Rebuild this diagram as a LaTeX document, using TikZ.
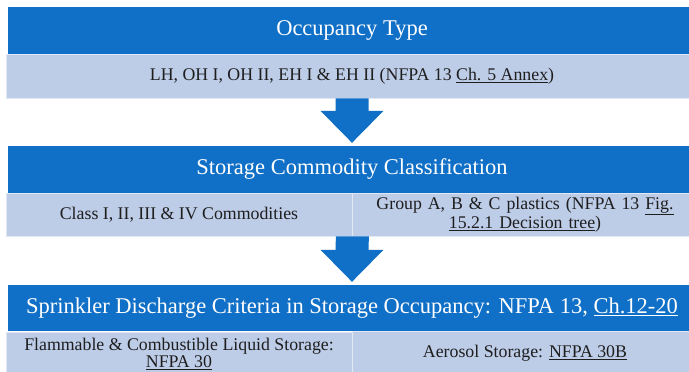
\documentclass[tikz,border=0pt]{standalone}
\usepackage{fontspec}
\setmainfont{Liberation Serif}
\usetikzlibrary{calc}

\definecolor{headblue}{RGB}{16,111,198}
\definecolor{infoblue}{RGB}{189,204,231}
\definecolor{infotext}{RGB}{30,30,30}

\tikzset{
  headbar/.style={fill=headblue, text=white, minimum width=688, minimum height=47,
    inner sep=0pt, font=\fontsize{22.5}{25}\selectfont},
  infobar/.style={fill=infoblue, draw=white!55!infoblue, line width=0.8pt, text=infotext,
    minimum height=43, inner sep=0pt, align=center, font=\fontsize{17.8}{17}\selectfont},
  flowarrow/.style={fill=headblue}
}

% block arrow from a bar down to the next header
\newcommand{\blockarrow}[2]{%
  \fill[flowarrow] ($(#1)+(-16.5,0)$) -- ($(#1)+(16.5,0)$) -- ($(#2)+(16.5,-35)$)
    -- ($(#2)+(31.5,-35)$) -- ($(#2)+(0,-3)$) -- ($(#2)+(-31.5,-35)$)
    -- ($(#2)+(-16.5,-35)$) -- cycle;}

\begin{document}
\begin{tikzpicture}[x=1pt,y=-1pt]
    \clip (0,0) rectangle (689,372);
    \fill[white] (0,0) rectangle (689,372);

    % occupancy
    \node[headbar] (occ) at (352,30.5) {Occupancy Type};
    \node[infobar, minimum width=692, minimum height=44] (occinfo) at (352,76)
      {LH, OH I, OH II, EH I \& EH II (NFPA 13 \underline{Ch. 5 Annex})};

    % commodity
    \node[headbar] (stor) at (352,169.5) {Storage Commodity Classification};
    \node[infobar, minimum width=346] (storl) at (179,214.5) {Class I, II, III \& IV Commodities};
    \node[infobar, minimum width=346, text width=336] (storr) at (525,214.5)
      {Group A, B \& C plastics (NFPA 13 \underline{Fig.}\\ \underline{15.2.1 Decision tree})};

    % discharge criteria
    \node[headbar, minimum height=46] (sprk) at (352,308)
      {Sprinkler Discharge Criteria in Storage Occupancy: NFPA 13, \underline{Ch.12-20}};
    \node[infobar, minimum width=346, minimum height=44] (sprkl) at (179,354)
      {Flammable \& Combustible Liquid Storage:\\ \underline{NFPA 30}};
    \node[infobar, minimum width=346, minimum height=44] (sprkr) at (525,353)
      {Aerosol Storage: \underline{NFPA 30B}};

    \blockarrow{occinfo.south}{stor.north}
    \blockarrow{storl.south east}{sprk.north}

\end{tikzpicture}
\end{document}
